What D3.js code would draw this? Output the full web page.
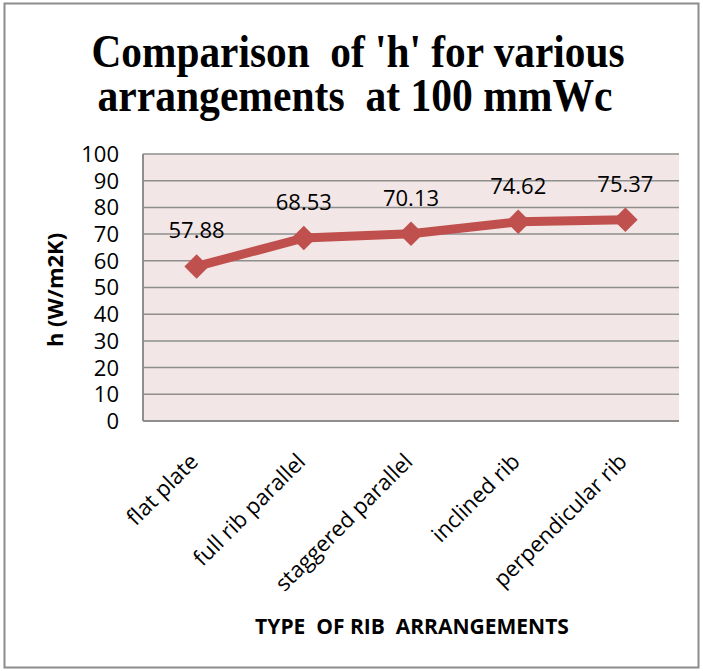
<!DOCTYPE html>
<html>
<head>
<meta charset="utf-8">
<script src="https://cdn.jsdelivr.net/npm/d3@7"></script>
<style>
  body { margin: 0; background: #fff; }
</style>
</head>
<body>
<div id="chart"></div>
<script>
// data
const categories = ["flat plate", "full rib parallel", "staggered parallel", "inclined rib", "perpendicular rib"];
const hValues = [57.88, 68.53, 70.13, 74.62, 75.37];
const yTicks = [0, 10, 20, 30, 40, 50, 60, 70, 80, 90, 100];
const titleLines = ["Comparison  of 'h' for various", "arrangements  at 100 mmWc"];

let w = 703, h = 671;
let margin = {left: 143, right: 24, top: 154, bottom: 250};
let width = w - margin.left - margin.right;
let height = h - margin.top - margin.bottom;

const sans = "'Open Sans', 'Liberation Sans', sans-serif";

let svg = d3.select("#chart").append("svg")
    .attr("width", w)
    .attr("height", h);

// outer frame
svg.append("rect")
    .attr("x", 4.5).attr("y", 3.5)
    .attr("width", 694).attr("height", 664)
    .attr("fill", "#fff")
    .attr("stroke", "#8c8c8c")
    .attr("stroke-width", 2);

// title (condensed bold serif)
svg.append("g")
    .attr("font-family", "'Liberation Serif', 'Times New Roman', serif")
    .attr("font-weight", "bold")
    .attr("font-size", 47)
    .attr("fill", "#000")
  .selectAll("text")
    .data(titleLines)
    .join("text")
    .attr("x", (d, i) => i == 0 ? 358 : 355)
    .attr("y", (d, i) => 67 + i * 44)
    .attr("text-anchor", "middle")
    .attr("textLength", (d, i) => i == 0 ? 533 : 515)
    .attr("lengthAdjust", "spacingAndGlyphs")
    .style("white-space", "pre")
    .text(d => d);

let x = d3.scaleBand()
    .domain(categories)
    .range([0, width]);

let y = d3.scaleLinear()
    .domain([0, 100])
    .range([height, 0]);

let g = svg.append("g").attr("transform", `translate(${margin.left}, ${margin.top})`);

// plot background
g.append("rect")
    .attr("width", width).attr("height", height)
    .attr("fill", "#f2e6e6");

// gridlines
g.selectAll("line.grid")
    .data(yTicks.filter(d => d > 0))
    .join("line")
    .attr("class", "grid")
    .attr("x1", 0).attr("x2", width)
    .attr("y1", d => y(d)).attr("y2", d => y(d))
    .attr("stroke", "#8e8e8e")
    .attr("stroke-width", 1.5);

// axis lines
g.append("line")
    .attr("x1", 0).attr("x2", 0).attr("y1", 0).attr("y2", height)
    .attr("stroke", "#8e8e8e").attr("stroke-width", 2);
g.append("line")
    .attr("x1", 0).attr("x2", width).attr("y1", height).attr("y2", height)
    .attr("stroke", "#8e8e8e").attr("stroke-width", 2);

// y tick labels
g.selectAll("text.ytick")
    .data(yTicks)
    .join("text")
    .attr("class", "ytick")
    .attr("x", -24)
    .attr("y", d => y(d))
    .attr("dy", "0.36em")
    .attr("text-anchor", "end")
    .attr("font-family", sans)
    .attr("font-size", 22)
    .attr("fill", "#000")
    .text(d => d);

// x tick labels, rotated
g.selectAll("text.xtick")
    .data(categories)
    .join("text")
    .attr("class", "xtick")
    .attr("transform", d => `translate(${x(d) + x.bandwidth() / 2 + 3}, ${height + 42}) rotate(-45)`)
    .attr("text-anchor", "end")
    .attr("font-family", sans)
    .attr("font-size", 22)
    .attr("fill", "#000")
    .text(d => d);

// line
let line = d3.line()
    .x((d, i) => x(categories[i]) + x.bandwidth() / 2)
    .y(d => y(d));

g.append("path")
    .datum(hValues)
    .attr("fill", "none")
    .attr("stroke", "#c0504d")
    .attr("stroke-width", 9)
    .attr("stroke-linejoin", "round")
    .attr("d", line);

// diamond markers
g.selectAll("path.marker")
    .data(hValues)
    .join("path")
    .attr("class", "marker")
    .attr("d", d3.symbol(d3.symbolSquare, 300))
    .attr("transform", (d, i) => `translate(${x(categories[i]) + x.bandwidth() / 2}, ${y(d)}) rotate(45)`)
    .attr("fill", "#c0504d");

// data labels
g.selectAll("text.val")
    .data(hValues)
    .join("text")
    .attr("class", "val")
    .attr("x", (d, i) => x(categories[i]) + x.bandwidth() / 2)
    .attr("y", d => y(d) - 28)
    .attr("text-anchor", "middle")
    .attr("font-family", sans)
    .attr("font-size", 22)
    .attr("fill", "#000")
    .text(d => d.toFixed(2));

// axis titles
svg.append("text")
    .attr("transform", `translate(63, 290) rotate(-90)`)
    .attr("text-anchor", "middle")
    .attr("font-family", sans)
    .attr("font-weight", "bold")
    .attr("font-size", 22)
    .attr("fill", "#000")
    .text("h (W/m2K)");

svg.append("text")
    .attr("x", 412)
    .attr("y", 634)
    .attr("text-anchor", "middle")
    .attr("font-family", sans)
    .attr("font-weight", "bold")
    .attr("font-size", 21)
    .attr("fill", "#000")
    .style("white-space", "pre")
    .text("TYPE  OF RIB  ARRANGEMENTS");
</script>
</body>
</html>
